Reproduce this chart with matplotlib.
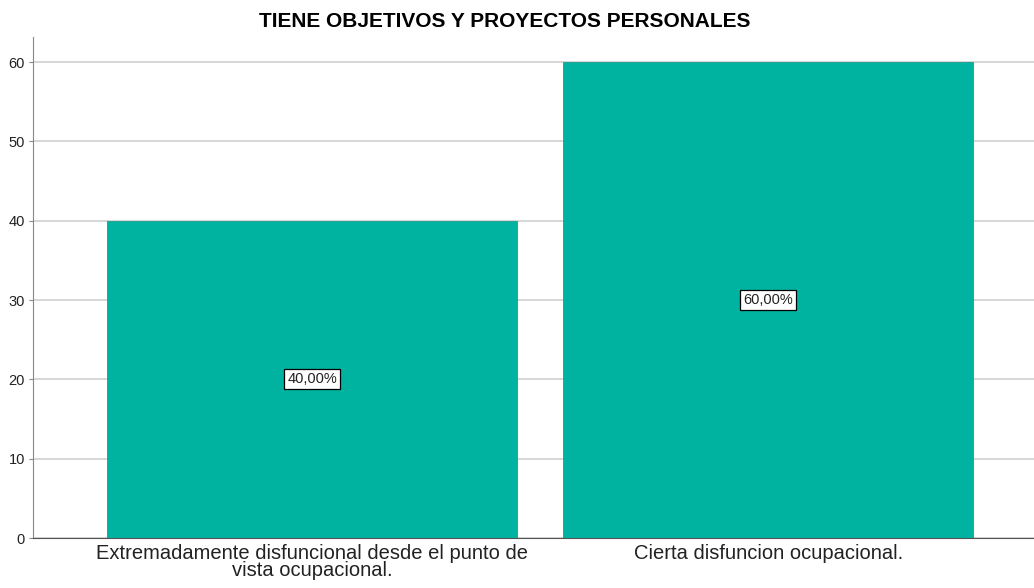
import matplotlib.pyplot as plt

plt.rcParams['font.family'] = ['Liberation Sans', 'DejaVu Sans']

categorias = ["Extremadamente disfuncional desde el punto de\nvista ocupacional.",
              "Cierta disfuncion ocupacional."]
porcentajes = [40.0, 60.0]
etiquetas = ["40,00%", "60,00%"]

fig = plt.figure(figsize=(10.34, 5.88), dpi=100)
ax = fig.add_axes([0.032, 0.085, 0.968, 0.852])

x = range(len(categorias))
ax.bar(x, porcentajes, width=0.9, color='#00B3A0', edgecolor='#1a9e8e', linewidth=0.6, zorder=2)

for xi, v, t in zip(x, porcentajes, etiquetas):
    ax.text(xi, v / 2, t, ha='center', va='center', fontsize=10.5, zorder=3, color='#222222',
            bbox=dict(boxstyle='square,pad=0.2', facecolor='white', edgecolor='black', linewidth=0.9))

ax.set_xlim(-0.612, 1.583)
ax.set_ylim(0, 63.15)
ax.set_yticks(range(0, 61, 10))
ax.set_xticks(list(x))
ax.set_xticklabels(categorias, fontsize=14.5, linespacing=0.9, color='#222222')
ax.tick_params(axis='y', labelsize=10.5, length=3, color='#888888', pad=3, labelcolor='#222222')
ax.tick_params(axis='x', length=0, pad=4)

ax.yaxis.grid(True, color='#d0d0d0', linewidth=1.2, zorder=0)
ax.set_axisbelow(True)
for s in ['top', 'right']:
    ax.spines[s].set_visible(False)
ax.spines['left'].set_color('#888888')
ax.spines['bottom'].set_color('#555555')

fig.text(0.488, 0.963, "TIENE OBJETIVOS Y PROYECTOS PERSONALES", ha='center', va='center',
         fontsize=15, fontweight='bold')

fig.savefig('out.png', dpi=100)
